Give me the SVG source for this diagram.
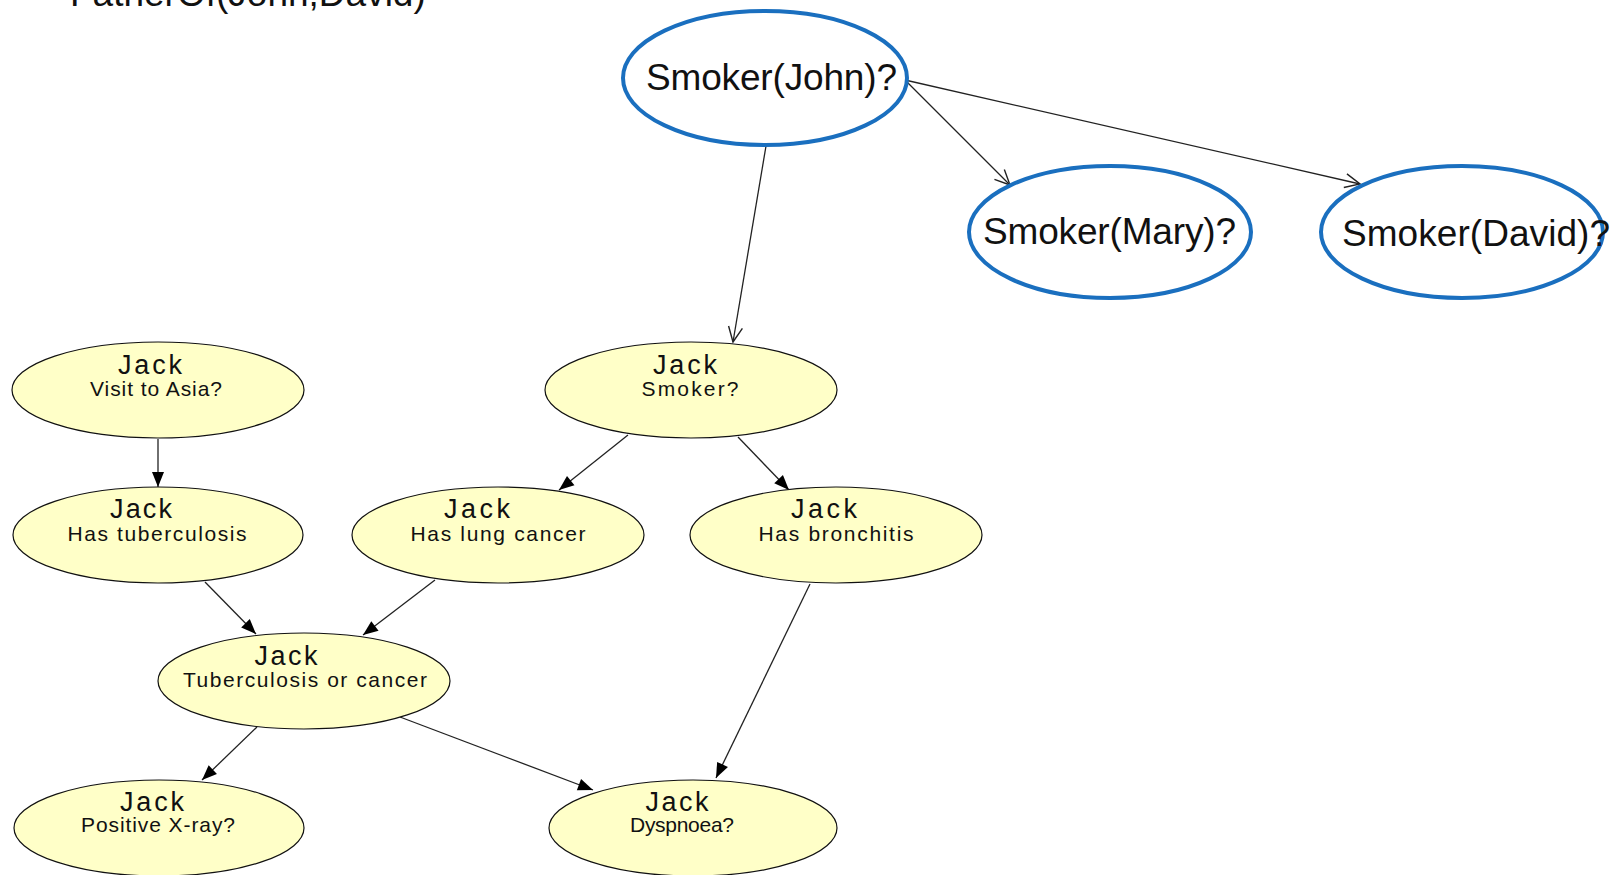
<svg xmlns="http://www.w3.org/2000/svg" width="1619" height="875" viewBox="0 0 1619 875">
  <style>
    .big { font-family: "Liberation Sans", Arial, sans-serif; font-size: 37px; fill: #111; }
    .bnode { fill: #fff; stroke: #1a6fbf; stroke-width: 4; }
    .ynode { fill: #ffffc8; stroke: #111; stroke-width: 1.2; }
    .name { font-family: "Liberation Sans Narrow", "Liberation Sans", Arial, sans-serif; font-size: 27px; fill: #111; text-anchor: middle; }
    .sub { font-family: "Liberation Sans Narrow", "Liberation Sans", Arial, sans-serif; font-size: 21px; fill: #111; text-anchor: middle; }
    .edge { fill: none; stroke: #222; stroke-width: 1.3; }
  </style>
  <defs>
    <marker id="open" viewBox="-17 -9 19 18" refX="0" refY="0" markerWidth="19" markerHeight="18" markerUnits="userSpaceOnUse" orient="auto">
      <path d="M-15,-7 L0,0 L-15,7" fill="none" stroke="#222" stroke-width="1.4"/>
    </marker>
    <marker id="solid" viewBox="-16 -8 17 16" refX="0" refY="0" markerWidth="17" markerHeight="16" markerUnits="userSpaceOnUse" orient="auto">
      <path d="M-15,-6 L0,0 L-15,6 Z" fill="#000"/>
    </marker>
  </defs>

  <rect width="1619" height="875" fill="#fff"/>

  <text class="big" x="70" y="6" font-size="36">FatherOf(John,David)</text>

  <g id="connectors">
    <line class="edge" x1="766" y1="146" x2="733" y2="342" marker-end="url(#open)"/>
    <line class="edge" x1="905" y1="80" x2="1010" y2="185" marker-end="url(#open)"/>
    <line class="edge" x1="905" y1="80" x2="1360" y2="184" marker-end="url(#open)"/>
    <line class="edge" x1="158" y1="439" x2="158" y2="487" marker-end="url(#solid)"/>
    <line class="edge" x1="628" y1="435" x2="559" y2="490" marker-end="url(#solid)"/>
    <line class="edge" x1="738" y1="437" x2="789" y2="490" marker-end="url(#solid)"/>
    <line class="edge" x1="205" y1="582" x2="256" y2="634" marker-end="url(#solid)"/>
    <line class="edge" x1="435" y1="580" x2="363" y2="635" marker-end="url(#solid)"/>
    <line class="edge" x1="810" y1="584" x2="716" y2="778" marker-end="url(#solid)"/>
    <line class="edge" x1="257" y1="727" x2="202" y2="780" marker-end="url(#solid)"/>
    <line class="edge" x1="400" y1="717" x2="593" y2="790" marker-end="url(#solid)"/>
  </g>

  <g id="smoker-john">
    <ellipse class="bnode" cx="765" cy="78" rx="142" ry="67"/>
    <text class="big" x="646" y="90" textLength="251">Smoker(John)?</text>
  </g>
  <g id="smoker-mary">
    <ellipse class="bnode" cx="1110" cy="232" rx="141" ry="66"/>
    <text class="big" x="983" y="244" textLength="253">Smoker(Mary)?</text>
  </g>
  <g id="smoker-david">
    <ellipse class="bnode" cx="1462" cy="232" rx="141" ry="66"/>
    <text class="big" x="1342" y="246" textLength="268">Smoker(David)?</text>
  </g>

  <g id="visit-asia">
    <ellipse class="ynode" cx="158" cy="390" rx="146" ry="48"/>
    <text class="name" x="150" y="374" textLength="64">Jack</text>
    <text class="sub" x="156" y="396" textLength="132">Visit to Asia?</text>
  </g>
  <g id="jack-smoker">
    <ellipse class="ynode" cx="691" cy="390" rx="146" ry="48"/>
    <text class="name" x="685" y="374" textLength="64">Jack</text>
    <text class="sub" x="690" y="396" textLength="97">Smoker?</text>
  </g>
  <g id="tuberculosis">
    <ellipse class="ynode" cx="158" cy="535" rx="145" ry="48"/>
    <text class="name" x="141" y="518" textLength="62">Jack</text>
    <text class="sub" x="157" y="541" textLength="179">Has tuberculosis</text>
  </g>
  <g id="lung-cancer">
    <ellipse class="ynode" cx="498" cy="535" rx="146" ry="48"/>
    <text class="name" x="477" y="518" textLength="66">Jack</text>
    <text class="sub" x="498" y="541" textLength="175">Has lung cancer</text>
  </g>
  <g id="bronchitis">
    <ellipse class="ynode" cx="836" cy="535" rx="146" ry="48"/>
    <text class="name" x="824" y="518" textLength="66">Jack</text>
    <text class="sub" x="836" y="541" textLength="155">Has bronchitis</text>
  </g>
  <g id="tub-or-cancer">
    <ellipse class="ynode" cx="304" cy="681" rx="146" ry="48"/>
    <text class="name" x="286" y="665" textLength="63">Jack</text>
    <text class="sub" x="305" y="687" textLength="244">Tuberculosis or cancer</text>
  </g>
  <g id="xray">
    <ellipse class="ynode" cx="159" cy="828" rx="145" ry="48"/>
    <text class="name" x="152" y="811" textLength="64">Jack</text>
    <text class="sub" x="158" y="832" textLength="154">Positive X-ray?</text>
  </g>
  <g id="dyspnoea">
    <ellipse class="ynode" cx="693" cy="828" rx="144" ry="48"/>
    <text class="name" x="677" y="811" textLength="63">Jack</text>
    <text class="sub" x="682" y="832" textLength="104">Dyspnoea?</text>
  </g>
</svg>
